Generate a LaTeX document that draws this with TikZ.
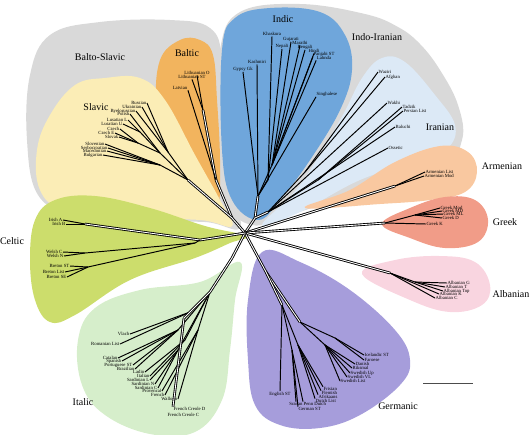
\documentclass[tikz,border=0pt]{standalone}
\usepackage{fontspec}
\setmainfont{Liberation Serif}
\usetikzlibrary{calc}
\definecolor{greyzone}{HTML}{D9D9D9}
\definecolor{balticzone}{HTML}{F2B45E}
\definecolor{slaviczone}{HTML}{FBEDB6}
\definecolor{indiczone}{HTML}{6FA6DB}
\definecolor{iranianzone}{HTML}{DCE9F6}
\definecolor{armenianzone}{HTML}{F9C8A0}
\definecolor{greekzone}{HTML}{F19C88}
\definecolor{albanianzone}{HTML}{F9D5E0}
\definecolor{germaniczone}{HTML}{A69DDB}
\definecolor{italiczone}{HTML}{D6EECB}
\definecolor{celticzone}{HTML}{CCDD6C}
\tikzset{
  leaf/.style={font=\fontsize{2.7}{3}\selectfont,inner sep=0.2pt},
  leafL/.style={leaf,anchor=east},
  leafR/.style={leaf,anchor=west},
  clade/.style={font=\fontsize{5.7}{6.5}\selectfont,inner sep=0pt},
  branch/.style={line width=0.55pt},
  trunk/.style={line width=0.5pt,double distance=0.5pt},
  zone/.style={smooth cycle,tension=0.65}
}
\begin{document}
\begin{tikzpicture}[x=0.02cm,y=-0.02cm]
  \useasboundingbox (0,0) rectangle (530,434);
  % family zones
  \fill[greyzone] plot[zone] coordinates {(240,228) (205,222) (140,222) (75,215) (38,195) (27,140) (30,75) (50,35) (100,22) (170,20) (210,28) (222,60) (222,130) (230,190)};
  \fill[greyzone] plot[zone] coordinates {(252,225) (226,200) (218,130) (220,50) (240,12) (300,4) (365,14) (398,27) (420,44) (440,70) (458,105) (462,140) (440,165) (350,195) (290,215)};
  \fill[balticzone] plot[zone] coordinates {(218,205) (205,175) (172,140) (157,105) (160,60) (180,40) (200,40) (213,55) (217,100) (220,160)};
  \fill[slaviczone] plot[zone] coordinates {(232,226) (200,220) (130,218) (65,210) (40,190) (37,150) (50,115) (75,85) (105,78) (140,78) (165,100) (195,155) (220,200)};
  \fill[iranianzone] plot[zone] coordinates {(262,225) (300,185) (340,120) (362,78) (382,58) (405,62) (435,95) (455,125) (448,148) (420,160) (360,180) (300,212)};
  \fill[indiczone] plot[zone] coordinates {(258,220) (232,200) (222,150) (222,50) (235,18) (270,8) (320,12) (345,35) (352,70) (340,110) (310,160) (280,200)};
  \fill[armenianzone] plot[zone] coordinates {(305,208) (350,190) (395,162) (440,146) (468,152) (477,172) (465,192) (430,200) (380,204)};
  \fill[greekzone] plot[zone] coordinates {(382,224) (410,208) (445,197) (475,200) (488,220) (478,242) (445,248) (410,238)};
  \fill[albanianzone] plot[zone] coordinates {(362,274) (395,260) (440,256) (475,262) (490,285) (482,305) (450,312) (410,300)};
  \fill[germaniczone] plot[zone] coordinates {(262,252) (300,262) (350,290) (395,330) (410,360) (400,385) (360,415) (320,428) (280,425) (255,405) (248,360) (248,300)};
  \fill[italiczone] plot[zone] coordinates {(240,262) (235,300) (230,350) (222,400) (195,432) (150,434) (105,415) (82,385) (78,340) (95,308) (140,290) (200,282)};
  \fill[celticzone] plot[zone] coordinates {(246,236) (205,226) (150,208) (95,196) (55,200) (35,220) (30,260) (35,300) (50,322) (75,315) (130,280) (195,258) (230,243)};

  % family names
  \node[clade] (baltoslavic) at (100,57) {Balto-Slavic};
  \node[clade] (baltic) at (187,53) {Baltic};
  \node[clade] (slavic) at (96,107) {Slavic};
  \node[clade] (indic) at (283,19) {Indic};
  \node[clade] (indoiranian) at (377,37) {Indo-Iranian};
  \node[clade] (iranian) at (440,127) {Iranian};
  \node[clade] (armenian) at (502,166) {Armenian};
  \node[clade] (greek) at (505,222) {Greek};
  \node[clade] (albanian) at (511,294) {Albanian};
  \node[clade] (celtic) at (12,241) {Celtic};
  \node[clade] (italic) at (83,402) {Italic};
  \node[clade] (germanic) at (398,406) {Germanic};

  % hubs
  \coordinate (c) at (245,233);
  \coordinate (bs) at (232,218);
  \coordinate (balt) at (216,180);
  \coordinate (lith) at (203,110);
  \coordinate (slav) at (188,180);
  \coordinate (eslav) at (168,152);
  \coordinate (wslav) at (160,153);
  \coordinate (lus) at (140,132);
  \coordinate (czsl) at (138,143);
  \coordinate (sslav) at (160,165);
  \coordinate (ii) at (255,218);
  \coordinate (ind) at (258,196);
  \coordinate (nep) at (268,180);
  \coordinate (ind2) at (272,165);
  \coordinate (ir) at (268,212);
  \coordinate (pash) at (305,172);
  \coordinate (pers) at (318,180);
  \coordinate (arm) at (395,186);
  \coordinate (grk) at (385,223);
  \coordinate (grk2) at (415,215);
  \coordinate (alb) at (390,273);
  \coordinate (alb2) at (415,282);
  \coordinate (ger) at (266,272);
  \coordinate (wger) at (282,305);
  \coordinate (nger) at (300,322);
  \coordinate (insul) at (335,338);
  \coordinate (scand) at (325,345);
  \coordinate (frank) at (298,345);
  \coordinate (hger) at (292,350);
  \coordinate (it) at (232,258);
  \coordinate (it2) at (210,292);
  \coordinate (balk) at (190,312);
  \coordinate (ibero) at (178,330);
  \coordinate (italo) at (185,340);
  \coordinate (sard) at (178,350);
  \coordinate (gallo) at (198,330);
  \coordinate (creole) at (184,318);
  \coordinate (ce) at (200,240);
  \coordinate (irish) at (85,224);
  \coordinate (bryth) at (195,243);
  \coordinate (welsh) at (85,253);
  \coordinate (breton) at (88,267);

  % leaves
  \node[leafL] (russian) at (147,103) {Russian};
  \node[leafL] (ukrainian) at (142,107) {Ukrainian};
  \node[leafL] (byelorussian) at (136,111) {Byelorussian};
  \node[leafL] (polish) at (130,114) {Polish};
  \node[leafL] (lusatianL) at (128,120) {Lusatian L};
  \node[leafL] (lusatianU) at (123,124) {Lusatian U};
  \node[leafL] (czech) at (120,129) {Czech};
  \node[leafL] (czechE) at (115,133) {Czech E};
  \node[leafL] (slovak) at (119,137) {Slovak};
  \node[leafL] (slovenian) at (105,144) {Slovenian};
  \node[leafL] (serbocroatian) at (108,148) {Serbocroatian};
  \node[leafL] (macedonian) at (107,151) {Macedonian};
  \node[leafL] (bulgarian) at (103,155) {Bulgarian};
  \node[leaf] (lithO) at (197,73) {Lithuanian O};
  \node[leaf] (lithST) at (192,77) {Lithuanian ST};
  \node[leaf] (latvian) at (180,88) {Latvian};
  \node[leaf] (khaskura) at (272,34) {Khaskura};
  \node[leaf] (gujarati) at (291,39) {Gujarati};
  \node[leaf] (marathi) at (300,43) {Marathi};
  \node[leaf] (nepali) at (282,46) {Nepali};
  \node[leaf] (bengali) at (305,47) {Bengali};
  \node[leaf] (hindi) at (314,51) {Hindi};
  \node[leaf] (panjabi) at (324,54) {Panjabi ST};
  \node[leaf] (lahnda) at (324,58) {Lahnda};
  \node[leaf] (kashmiri) at (257,62) {Kashmiri};
  \node[leaf] (gypsy) at (243,69) {Gypsy Gk};
  \node[leaf] (singhalese) at (327,94) {Singhalese};
  \node[leafR] (waziri) at (378,72) {Waziri};
  \node[leafR] (afghan) at (385,77) {Afghan};
  \node[leafR] (wakhi) at (387,103) {Wakhi};
  \node[leafR] (tadzik) at (402,107) {Tadzik};
  \node[leafR] (persian) at (403,111) {Persian List};
  \node[leafR] (baluchi) at (395,127) {Baluchi};
  \node[leafR] (ossetic) at (388,148) {Ossetic};
  \node[leafR] (armList) at (425,172) {Armenian List};
  \node[leafR] (armMod) at (424,176) {Armenian Mod};
  \node[leafR] (greekMod) at (440,208) {Greek Mod};
  \node[leafR] (greekMD) at (442,211) {Greek MD};
  \node[leafR] (greekML) at (443,214) {Greek ML};
  \node[leafR] (greekD) at (442,218) {Greek D};
  \node[leafR] (greekK) at (426,224) {Greek K};
  \node[leafR] (albG) at (447,283) {Albanian G};
  \node[leafR] (albT) at (445,287) {Albanian T};
  \node[leafR] (albTop) at (443,291) {Albanian Top};
  \node[leafR] (albK) at (439,294) {Albanian K};
  \node[leafR] (albC) at (435,298) {Albanian C};
  \node[leafR] (icelandic) at (364,355) {Icelandic ST};
  \node[leafR] (faroese) at (364,360) {Faroese};
  \node[leafR] (danish) at (355,364) {Danish};
  \node[leafR] (riksmal) at (352,368) {Riksmal};
  \node[leafR] (swedishUp) at (350,373) {Swedish Up};
  \node[leafR] (swedishVL) at (347,377) {Swedish VL};
  \node[leafR] (swedishList) at (340,381) {Swedish List};
  \node[leafR] (frisian) at (323,389) {Frisian};
  \node[leafR] (flemish) at (321,393) {Flemish};
  \node[leafR] (afrikaans) at (318,397) {Afrikaans};
  \node[leafR] (dutchList) at (315,401) {Dutch List};
  \node[leaf] (sranan) at (296,404) {Sranan};
  \node[leafR] (pennDutch) at (303,404) {Penn Dutch};
  \node[leafR] (germanST) at (298,409) {German ST};
  \node[leaf] (englishST) at (280,394) {English ST};
  \node[leafL] (vlach) at (130,334) {Vlach};
  \node[leafL] (romanian) at (120,344) {Romanian List};
  \node[leafL] (catalan) at (118,358) {Catalan};
  \node[leafL] (spanish) at (122,361) {Spanish};
  \node[leafL] (portuguese) at (133,365) {Portuguese ST};
  \node[leafL] (brazilian) at (135,369) {Brazilian};
  \node[leafL] (ladin) at (145,372) {Ladin};
  \node[leafL] (italian) at (150,376) {Italian};
  \node[leafL] (sardL) at (150,380) {Sardinian L};
  \node[leafL] (sardN) at (155,384) {Sardinian N};
  \node[leafL] (sardC) at (158,388) {Sardinian C};
  \node[leafL] (provencal) at (162,391) {Provencal};
  \node[leafL] (french) at (165,395) {French};
  \node[leafL] (walloon) at (178,399) {Walloon};
  \node[leafR] (creoleD) at (173,409) {French Creole D};
  \node[leafR] (creoleC) at (167,415) {French Creole C};
  \node[leafL] (irishA) at (63,220) {Irish A};
  \node[leafL] (irishB) at (66,224) {Irish B};
  \node[leafL] (welshC) at (63,252) {Welsh C};
  \node[leafL] (welshN) at (64,256) {Welsh N};
  \node[leafL] (bretonST) at (70,266) {Breton ST};
  \node[leafL] (bretonList) at (65,272) {Breton List};
  \node[leafL] (bretonSE) at (67,277) {Breton SE};

  % network
  \draw[trunk] (c) -- (bs);
  \draw[trunk] (bs) -- (balt);
  \draw[trunk] (balt) -- (lith);
  \draw[branch] (lith) -- (lithO.south);
  \draw[branch] (lith) -- (lithST.south);
  \draw[branch] (balt) -- (latvian.south east);
  \draw[trunk] (bs) -- (slav);
  \draw[branch] (slav) -- (eslav);
  \draw[branch] (slav) -- (wslav);
  \draw[branch] (slav) -- (sslav);
  \foreach \leafname in {russian,ukrainian,byelorussian}
    \draw[branch] (eslav) -- (\leafname.east);
  \draw[branch] (wslav) -- (polish.east);
  \draw[branch] (wslav) -- (lus);
  \draw[branch] (wslav) -- (czsl);
  \draw[branch] (lus) -- (lusatianL.east);
  \draw[branch] (lus) -- (lusatianU.east);
  \foreach \leafname in {czech,czechE,slovak}
    \draw[branch] (czsl) -- (\leafname.east);
  \foreach \leafname in {slovenian,serbocroatian,macedonian,bulgarian}
    \draw[branch] (sslav) -- (\leafname.east);

  \draw[trunk] (c) -- (ii);
  \draw[trunk] (ii) -- (ind);
  \draw[branch] (ind) -- (nep);
  \draw[branch] (ind) -- (ind2);
  \draw[branch] (nep) -- (khaskura.south);
  \draw[branch] (nep) -- (nepali.south);
  \foreach \leafname in {gujarati,marathi,bengali,hindi}
    \draw[branch] (ind2) -- (\leafname.south);
  \draw[branch] (ind2) -- (panjabi.south west);
  \draw[branch] (ind2) -- (lahnda.south west);
  \draw[branch] (ind) -- (kashmiri.south);
  \draw[branch] (ind) -- (gypsy.south);
  \draw[branch] (ind) -- (singhalese.south west);
  \draw[trunk] (ii) -- (ir);
  \draw[branch] (ir) -- (pash);
  \draw[branch] (pash) -- (waziri.west);
  \draw[branch] (pash) -- (afghan.west);
  \draw[branch] (ir) -- (pers);
  \draw[branch] (pers) -- (tadzik.west);
  \draw[branch] (pers) -- (persian.west);
  \draw[branch] (ir) -- (wakhi.west);
  \draw[branch] (ir) -- (baluchi.west);
  \draw[branch] (ir) -- (ossetic.west);

  \draw[trunk] (c) -- (arm);
  \draw[branch] (arm) -- (armList.west);
  \draw[branch] (arm) -- (armMod.west);
  \draw[trunk] (c) -- (grk);
  \draw[branch] (grk) -- (grk2);
  \foreach \leafname in {greekMod,greekMD,greekML,greekD}
    \draw[branch] (grk2) -- (\leafname.west);
  \draw[branch] (grk) -- (greekK.west);
  \draw[trunk] (c) -- (alb);
  \draw[branch] (alb) -- (alb2);
  \foreach \leafname in {albG,albT,albTop}
    \draw[branch] (alb2) -- (\leafname.west);
  \draw[branch] (alb) -- (albK.west);
  \draw[branch] (alb) -- (albC.west);

  \draw[trunk] (c) -- (ger);
  \draw[trunk] (ger) -- (nger);
  \draw[trunk] (ger) -- (wger);
  \draw[branch] (nger) -- (insul);
  \draw[branch] (nger) -- (scand);
  \draw[branch] (insul) -- (icelandic.west);
  \draw[branch] (insul) -- (faroese.west);
  \foreach \leafname in {danish,riksmal,swedishUp,swedishVL,swedishList}
    \draw[branch] (scand) -- (\leafname.west);
  \draw[branch] (wger) -- (frank);
  \draw[branch] (wger) -- (hger);
  \foreach \leafname in {frisian,flemish,afrikaans,dutchList}
    \draw[branch] (frank) -- (\leafname.north west);
  \draw[branch] (hger) -- (sranan.north);
  \draw[branch] (hger) -- (pennDutch.north west);
  \draw[branch] (hger) -- (germanST.north west);
  \draw[branch] (wger) -- (englishST.north);

  \draw[trunk] (c) -- (it);
  \draw[trunk] (it) -- (it2);
  \draw[branch] (it2) -- (balk);
  \draw[branch] (balk) -- (vlach.east);
  \draw[branch] (balk) -- (romanian.east);
  \draw[branch] (it2) -- (ibero);
  \foreach \leafname in {catalan,spanish,portuguese,brazilian}
    \draw[branch] (ibero) -- (\leafname.east);
  \draw[branch] (it2) -- (italo);
  \draw[branch] (italo) -- (ladin.east);
  \draw[branch] (italo) -- (italian.east);
  \draw[branch] (it2) -- (sard);
  \foreach \leafname in {sardL,sardN,sardC}
    \draw[branch] (sard) -- (\leafname.east);
  \draw[branch] (it2) -- (gallo);
  \foreach \leafname in {provencal,french,walloon}
    \draw[branch] (gallo) -- (\leafname.east);
  \draw[trunk] (it2) -- (creole);
  \draw[trunk] (creole) -- (creoleD.north west);

  \draw[trunk] (c) -- (ce);
  \draw[trunk] (ce) -- (irish);
  \draw[branch] (irish) -- (irishA.east);
  \draw[branch] (irish) -- (irishB.east);
  \draw[branch] (ce) -- (bryth);
  \draw[branch] (bryth) -- (welsh);
  \draw[branch] (bryth) -- (breton);
  \draw[branch] (welsh) -- (welshC.east);
  \draw[branch] (welsh) -- (welshN.east);
  \foreach \leafname in {bretonST,bretonList,bretonSE}
    \draw[branch] (breton) -- (\leafname.east);

  % scale bar
  \coordinate (barL) at (423,383);
  \coordinate (barR) at (473,383);
  \draw[line width=0.5pt,black!70] (barL) -- (barR);
\end{tikzpicture}
\end{document}
